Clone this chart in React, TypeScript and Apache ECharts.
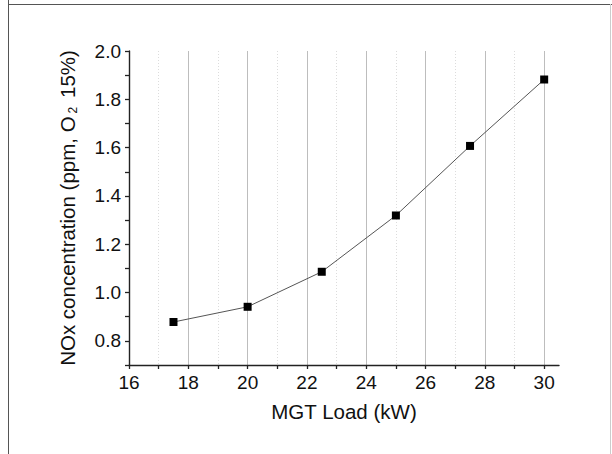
import React, { useEffect, useRef } from "react";
import * as echarts from "echarts";

const loads = [17.5, 20, 22.5, 25, 27.5, 30];
const nox = [0.878, 0.941, 1.086, 1.319, 1.607, 1.882];

const xTickValues = [16, 17, 18, 19, 20, 21, 22, 23, 24, 25, 26, 27, 28, 29, 30];
const xLabelValues = [16, 18, 20, 22, 24, 26, 28, 30];
const xMajorGrid = [18, 20, 22, 24, 26, 28, 30];
const xMinorGrid = [17, 19, 21, 23, 25, 27, 29];
const yTickValues = [0.7, 0.8, 0.9, 1.0, 1.1, 1.2, 1.3, 1.4, 1.5, 1.6, 1.7, 1.8, 1.9, 2.0];
const yLabelValues = [0.8, 1.0, 1.2, 1.4, 1.6, 1.8, 2.0];

const FONT = "Liberation Sans, Arial, sans-serif";

export default function App() {
  const ref = useRef<HTMLDivElement>(null);
  useEffect(() => {
    if (!ref.current) return;
    const chart = echarts.init(ref.current, null, { renderer: "svg" });
    const hiddenAxis = {
      type: "value",
      min: 16,
      max: 30.5,
      position: "bottom",
      axisLine: { show: false },
      axisLabel: { show: false },
    };
    chart.setOption({
      animation: false,
      backgroundColor: "#ffffff",
      grid: { left: 129, right: 53, top: 51, bottom: 89, containLabel: false },
      graphic: [
        { type: "line", shape: { x1: 8.5, y1: 0, x2: 8.5, y2: 454 }, style: { stroke: "#555", lineWidth: 1 } },
        { type: "line", shape: { x1: 8, y1: 4.5, x2: 612, y2: 4.5 }, style: { stroke: "#555", lineWidth: 1 } },
        { type: "line", shape: { x1: 610.5, y1: 4, x2: 610.5, y2: 454 }, style: { stroke: "#ccc", lineWidth: 1 } },
      ],
      xAxis: [
        {
          type: "value",
          min: 16,
          max: 30.5,
          position: "bottom",
          name: "MGT Load (kW)",
          nameLocation: "middle",
          nameGap: 36,
          nameTextStyle: { fontFamily: FONT, fontSize: 20.5, color: "#111" },
          axisLine: { show: true, onZero: false, lineStyle: { color: "#222", width: 1.4 } },
          axisTick: { show: true, inside: false, length: 4, customValues: xTickValues, lineStyle: { color: "#222", width: 1.3 } },
          axisLabel: { show: true, customValues: xLabelValues, margin: 8, fontFamily: FONT, fontSize: 19, color: "#111" },
          splitLine: { show: false },
          z: 5,
        },
        {
          ...hiddenAxis,
          axisTick: { show: false, customValues: xMajorGrid },
          splitLine: { show: true, lineStyle: { color: "#bdbdbd", width: 1, type: "solid" } },
        },
        {
          ...hiddenAxis,
          axisTick: { show: false, customValues: xMinorGrid },
          splitLine: { show: true, lineStyle: { color: "#dcdcdc", width: 1, type: [1, 2] } },
        },
      ],
      yAxis: {
        type: "value",
        min: 0.7,
        max: 2.0,
        name: "{a|NOx concentration (ppm, O}{s|2}{a| 15%)}",
        nameLocation: "middle",
        nameGap: 50,
        nameTextStyle: {
          fontFamily: FONT,
          color: "#111",
          rich: {
            a: { fontFamily: FONT, fontSize: 20.5, color: "#111", lineHeight: 24 },
            s: { fontFamily: FONT, fontSize: 12, color: "#111", lineHeight: 10, verticalAlign: "bottom", padding: [0, 3, 0, 3] },
          },
        },
        axisLine: { show: true, onZero: false, lineStyle: { color: "#222", width: 1.4 } },
        axisTick: { show: true, inside: false, length: 4, customValues: yTickValues, lineStyle: { color: "#222", width: 1.3 } },
        axisLabel: {
          show: true,
          customValues: yLabelValues,
          margin: 8,
          fontFamily: FONT,
          fontSize: 19,
          color: "#111",
          formatter: (v: number) => v.toFixed(1),
        },
        splitLine: { show: false },
      },
      series: [
        {
          type: "line",
          xAxisIndex: 0,
          data: loads.map((x, i) => [x, nox[i]]),
          symbol: "rect",
          symbolSize: 8,
          itemStyle: { color: "#000" },
          lineStyle: { color: "#555", width: 1 },
          z: 10,
        },
      ],
    });
    return () => chart.dispose();
  }, []);
  return (
    <div
      ref={ref}
      style={{ position: "fixed", left: 0, top: 0, width: 612, height: 454 }}
    />
  );
}
